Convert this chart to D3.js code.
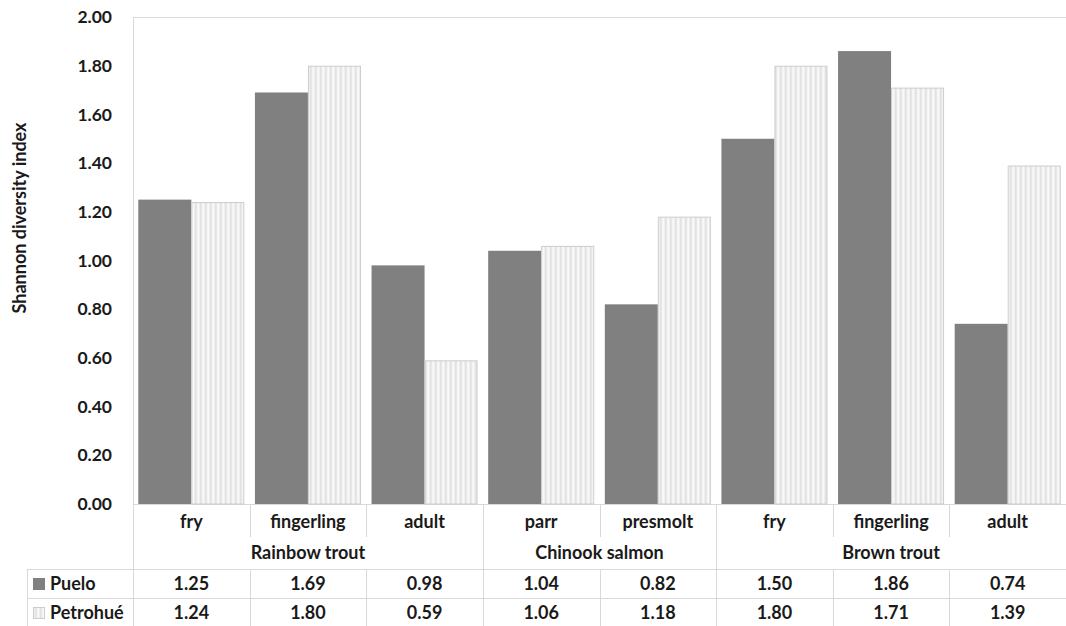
<!DOCTYPE html>
<html><head><meta charset="utf-8">
<script src="https://cdn.jsdelivr.net/npm/d3@7"></script>
<style>body{margin:0;background:#fff}svg{display:block}text{font-family:Lato,"Open Sans",sans-serif;font-weight:bold;fill:#1a1a1a}</style>
</head><body><svg id="c" width="1066" height="626"></svg>
<script>
const categories = ["fry","fingerling","adult","parr","presmolt","fry","fingerling","adult"];
const groups = [{name:"Rainbow trout",start:0,end:3},{name:"Chinook salmon",start:3,end:5},{name:"Brown trout",start:5,end:8}];
const seriesNames = ["Puelo","Petrohué"];
const puelo = [1.25,1.69,0.98,1.04,0.82,1.50,1.86,0.74];
const petrohue = [1.24,1.80,0.59,1.06,1.18,1.80,1.71,1.39];
const yTicks = [0,0.2,0.4,0.6,0.8,1.0,1.2,1.4,1.6,1.8,2.0];
const yTitle = "Shannon diversity index";

const svg = d3.select("#c");
const L=133, R=1066, T=17, B=504;
const lineCol="#d9d9d9";
const defs = svg.append("defs");
const pat = defs.append("pattern").attr("id","stripe").attr("patternUnits","userSpaceOnUse").attr("width",5).attr("height",6);
pat.append("rect").attr("width",5).attr("height",6).attr("fill","#efefef");
pat.append("rect").attr("x",0).attr("width",1.5).attr("height",6).attr("fill","#e2e2e2");
pat.append("rect").attr("x",2.5).attr("width",1.5).attr("height",6).attr("fill","#f9f9f9");

const x = d3.scaleBand().domain(d3.range(categories.length)).range([L,R]).paddingInner(0).paddingOuter(0);
const xs = d3.scaleBand().domain([0,1]).range([0,x.bandwidth()]).paddingInner(0).paddingOuter(0.1);
const y = d3.scaleLinear().domain([0,2]).range([B,T]);

// plot border
svg.append("line").attr("x1",L).attr("x2",R).attr("y1",T+0.5).attr("y2",T+0.5).attr("stroke",lineCol);
svg.append("line").attr("x1",L+0.5).attr("x2",L+0.5).attr("y1",T).attr("y2",626).attr("stroke",lineCol);
svg.append("line").attr("x1",L).attr("x2",R).attr("y1",B+0.5).attr("y2",B+0.5).attr("stroke",lineCol);

// y axis
const yAxis = d3.axisLeft(y).tickValues(yTicks).tickFormat(d3.format(".2f")).tickSize(0).tickPadding(0);
const ga = svg.append("g").attr("transform",`translate(112,0)`).call(yAxis);
ga.select(".domain").remove();
ga.selectAll("text").style("font-size","17.5px").style("font-family","Lato,sans-serif").style("font-weight","bold").attr("fill","#1a1a1a");

svg.append("text").attr("transform",`translate(26,218) rotate(-90)`).attr("text-anchor","middle").style("font-size","18px").text(yTitle);

// bars
const data = [puelo, petrohue];
data.forEach((vals,si)=>{
  svg.append("g").selectAll("rect").data(vals).join("rect")
    .attr("x",(d,i)=>x(i)+xs(si)+(si?0.5:0))
    .attr("y",d=>y(d)+(si?0.5:0))
    .attr("width",xs.bandwidth()-(si?1:0))
    .attr("height",d=>B-y(d)-(si?0.5:0))
    .attr("fill",si?"url(#stripe)":"#808080")
    .attr("stroke",si?"#cccccc":"none").attr("stroke-width",1);
});

// table
const rowCat=[505,537], rowGrp=[537,569], rowS1=[569,598], rowS2=[598,626];
const tbl = svg.append("g");
categories.forEach((c,i)=>{
  tbl.append("text").attr("x",x(i)+x.bandwidth()/2).attr("y",528).attr("text-anchor","middle").style("font-size","18px").text(c);
  if(i>0) tbl.append("line").attr("x1",Math.round(x(i))+0.5).attr("x2",Math.round(x(i))+0.5).attr("y1",rowCat[0]).attr("y2",rowCat[1]).attr("stroke",lineCol);
});
groups.forEach((g,gi)=>{
  const cx=(x(g.start)+x(g.end-1)+x.bandwidth())/2;
  tbl.append("text").attr("x",cx).attr("y",559).attr("text-anchor","middle").style("font-size","18px").text(g.name);
  if(gi>0) tbl.append("line").attr("x1",Math.round(x(g.start))+0.5).attr("x2",Math.round(x(g.start))+0.5).attr("y1",rowGrp[0]).attr("y2",rowGrp[1]).attr("stroke",lineCol);
});
[rowS1,rowS2].forEach((r,si)=>{
  tbl.append("line").attr("x1",27).attr("x2",R).attr("y1",r[0]+0.5).attr("y2",r[0]+0.5).attr("stroke",lineCol);
  data[si].forEach((v,i)=>{
    tbl.append("text").attr("x",x(i)+x.bandwidth()/2).attr("y",r[0]+21).attr("text-anchor","middle").style("font-size","18px").text(d3.format(".2f")(v));
    if(i>0) tbl.append("line").attr("x1",Math.round(x(i))+0.5).attr("x2",Math.round(x(i))+0.5).attr("y1",r[0]).attr("y2",r[1]).attr("stroke",lineCol);
  });
  tbl.append("rect").attr("x",si?33.5:33).attr("y",r[0]+9+(si?0.5:0)).attr("width",si?11:12).attr("height",si?11:12)
    .attr("fill",si?"url(#stripe)":"#808080").attr("stroke",si?"#cccccc":"none");
  tbl.append("text").attr("x",50).attr("y",r[0]+21).style("font-size","18px").text(seriesNames[si]);
});
tbl.append("line").attr("x1",27.5).attr("x2",27.5).attr("y1",rowS1[0]).attr("y2",626).attr("stroke",lineCol);
</script></body></html>
